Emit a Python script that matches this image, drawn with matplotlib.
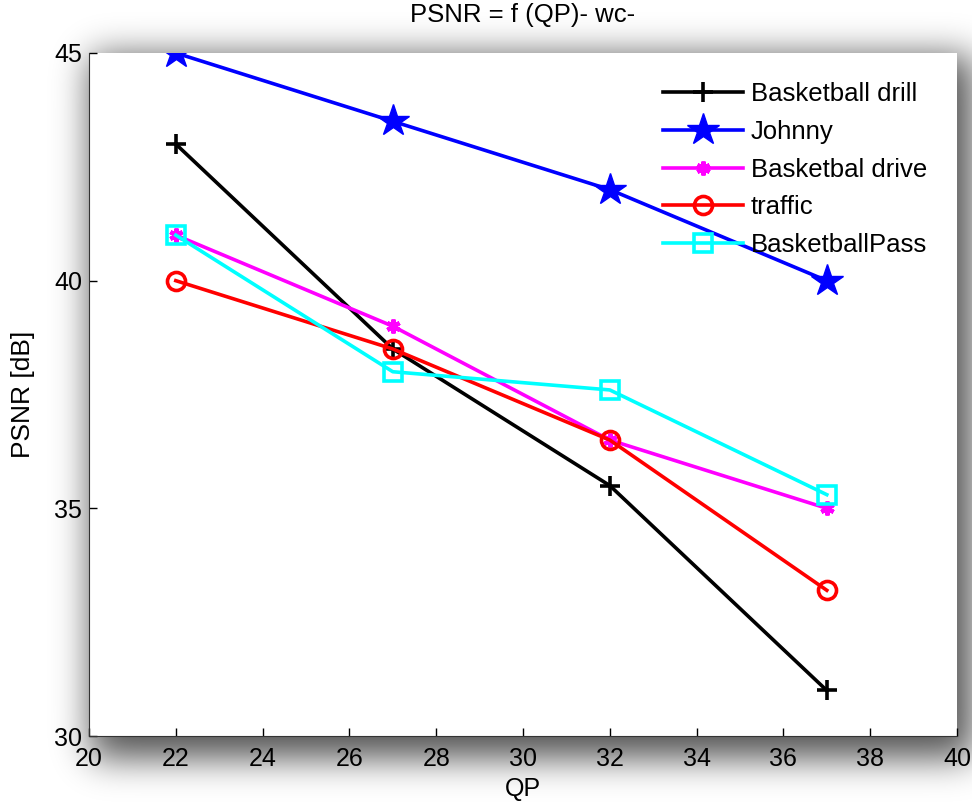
import numpy as np
import matplotlib
matplotlib.use('Agg')
import matplotlib.pyplot as plt

plt.rcParams['font.family'] = ['Liberation Sans', 'DejaVu Sans']

qp = [22, 27, 32, 37]
psnr_drill = [43.0, 38.5, 35.5, 31.0]
psnr_johnny = [45.0, 43.5, 42.0, 40.0]
psnr_drive = [41.0, 39.0, 36.5, 35.0]
psnr_traffic = [40.0, 38.5, 36.5, 33.2]
psnr_pass = [41.0, 38.0, 37.6, 35.3]

x_ticks = list(range(20, 41, 2))
y_ticks = [30, 35, 40, 45]

W, H = 972, 805
fig = plt.figure(figsize=(W / 100, H / 100), dpi=100)

# axes box in pixels (left, top, right, bottom)
L, T, R, B = 89, 53, 957, 736


def blur(a, sigma):
    k = np.arange(-3 * sigma, 3 * sigma + 1)
    g = np.exp(-k ** 2 / (2.0 * sigma ** 2))
    g /= g.sum()
    a = np.apply_along_axis(lambda r: np.convolve(r, g, mode='same'), 1, a)
    a = np.apply_along_axis(lambda c: np.convolve(c, g, mode='same'), 0, a)
    return a


# drop shadow behind the axes, MATLAB export style
mask = np.zeros((H, W))
mask[T + 4:B + 22, L + 2:R + 20] = 1.0
shade = blur(mask, 18) * 0.68
rgba = np.zeros((H, W, 4))
rgba[..., 3] = shade
bg = fig.add_axes([0, 0, 1, 1], zorder=0)
bg.imshow(rgba, extent=[0, W, H, 0], aspect='auto')
bg.set_xlim(0, W)
bg.set_ylim(H, 0)
bg.axis('off')

ax = fig.add_axes([L / W, 1 - B / H, (R - L) / W, (B - T) / H], zorder=1)
ax.set_facecolor('white')

lw = 2.6
ax.plot(qp, psnr_drill, color='black', lw=lw, marker='+', ms=14, mew=2.6,
        label='Basketball drill')
ax.plot(qp, psnr_johnny, color='#0000ff', lw=lw, marker='*', ms=24,
        mfc='#0000ff', mec='#0000ff', label='Johnny')
ax.plot(qp, psnr_drive, color='#ff00ff', lw=lw, marker=(6, 2, 0), ms=10, mew=3,
        label='Basketbal drive')
ax.plot(qp, psnr_traffic, color='#ff0000', lw=lw, marker='o', ms=13, mew=2.6,
        mfc='none', label='traffic')
ax.plot(qp, psnr_pass, color='#00ffff', lw=lw, marker='s', ms=13, mew=2.6,
        mfc='none', label='BasketballPass')

ax.set_xlim(20, 40)
ax.set_ylim(30, 45)
ax.set_xticks(x_ticks)
ax.set_yticks(y_ticks)
ax.tick_params(direction='in', length=6, width=1, labelsize=18)
ax.tick_params(axis='x', pad=8)
ax.tick_params(axis='y', pad=5)
for s in ['top', 'right']:
    ax.spines[s].set_visible(False)
for s in ['left', 'bottom']:
    ax.spines[s].set_color('#333333')

ax.set_title('PSNR = f (QP)- wc-', fontsize=18.5, pad=22)
ax.set_xlabel('QP', fontsize=18, labelpad=4)
ax.set_ylabel('PSNR [dB]', fontsize=19, labelpad=14)

ax.legend(loc='upper left', frameon=False, fontsize=18.5, handlelength=3.1,
          handletextpad=0.3, labelspacing=0.53, borderaxespad=0.0,
          bbox_to_anchor=(0.650, 0.972))

fig.savefig('out.png', dpi=100)
